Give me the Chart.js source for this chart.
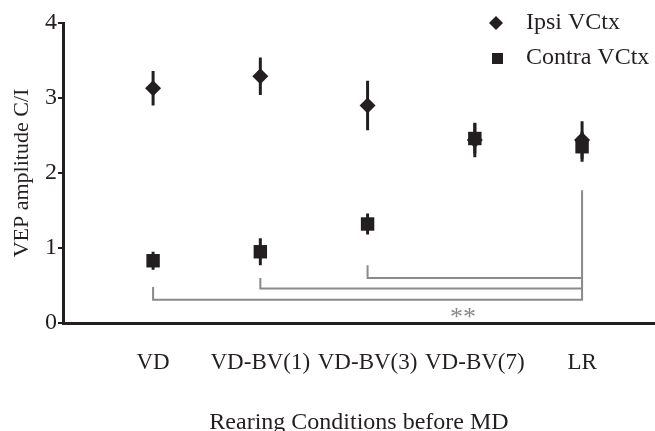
<!DOCTYPE html>
<html>
<head>
<meta charset="utf-8">
<script src="https://cdn.jsdelivr.net/npm/chart.js@4.4.1/dist/chart.umd.min.js"></script>
<style>
  html, body { margin: 0; padding: 0; background: #fff; }
  #wrap { width: 655px; height: 431px; }
</style>
</head>
<body>
<div id="wrap"><canvas id="chart"></canvas></div>
<script>
const categories = ["VD", "VD-BV(1)", "VD-BV(3)", "VD-BV(7)", "LR"];
const ipsi_values = [3.13, 3.29, 2.90, 2.44, 2.44];
const ipsi_errors = [0.23, 0.25, 0.33, 0.23, 0.25];
const contra_values = [0.83, 0.95, 1.32, 2.46, 2.35];
const contra_errors = [0.12, 0.18, 0.14, 0.20, 0.20];
const y_ticks = [0, 1, 2, 3, 4];
// brackets: [from category, to category, top of left leg, level]
const brackets = [
  [1, 5, 0.48, 0.31],
  [2, 5, 0.60, 0.46],
  [3, 5, 0.77, 0.60]
];
const lr_leg_top = 1.77;
const stars_label = "**";
const stars_pos = [3.89, 0.15];

const ink = "#231f20";
const grey = "#8a8a8a";
Chart.defaults.font.family = '"Liberation Serif", "Times New Roman", serif';
Chart.defaults.color = ink;

function points(values) {
  return values.map((v, i) => ({x: i + 1, y: v}));
}

function bracket_points(b, idx) {
  let pts = [{x: b[0], y: b[2]}, {x: b[0], y: b[3]}, {x: b[1], y: b[3]}];
  if (idx === 0) pts.push({x: b[1], y: lr_leg_top});
  return pts;
}

const bracket_sets = brackets.map((b, i) => ({
  label: "bracket" + i,
  data: bracket_points(b, i),
  showLine: true,
  borderColor: grey,
  borderWidth: 2,
  pointRadius: 0,
  fill: false,
  order: 5
}));

// vertical SEM bars, drawn through the scales
const error_bars = {
  id: "error_bars",
  afterDatasetsDraw(chart) {
    const ctx = chart.ctx;
    const xs = chart.scales.x, ys = chart.scales.y;
    ctx.save();
    ctx.strokeStyle = ink;
    ctx.lineWidth = 3;
    [[ipsi_values, ipsi_errors], [contra_values, contra_errors]].forEach(([vals, errs]) => {
      vals.forEach((v, i) => {
        const px = xs.getPixelForValue(i + 1);
        ctx.beginPath();
        ctx.moveTo(px, ys.getPixelForValue(v - errs[i]));
        ctx.lineTo(px, ys.getPixelForValue(v + errs[i]));
        ctx.stroke();
      });
    });
    // significance stars
    ctx.fillStyle = grey;
    ctx.font = '26px "Liberation Serif", serif';
    ctx.textAlign = "center";
    ctx.textBaseline = "alphabetic";
    ctx.fillText(stars_label, xs.getPixelForValue(stars_pos[0]), ys.getPixelForValue(stars_pos[1]) + 13);
    ctx.restore();
  }
};

const side_legend = {
  id: "side_legend",
  afterDraw(chart) {
    const ctx = chart.ctx;
    ctx.save();
    ctx.fillStyle = ink;
    // diamond
    ctx.beginPath();
    ctx.moveTo(496, 16); ctx.lineTo(503, 23); ctx.lineTo(496, 30); ctx.lineTo(489, 23);
    ctx.closePath();
    ctx.fill();
    // square
    ctx.fillRect(492, 53, 11, 11);
    ctx.font = '24px "Liberation Serif", serif';
    ctx.textAlign = "left";
    ctx.textBaseline = "middle";
    ctx.fillText(chart.data.datasets[0].label, 526, 23);
    ctx.fillText(chart.data.datasets[1].label, 526, 58);
    ctx.restore();
  }
};

new Chart(document.getElementById("chart"), {
  type: "scatter",
  data: {
    datasets: [
      {
        label: "Ipsi VCtx",
        data: points(ipsi_values),
        pointStyle: "rectRot",
        pointRadius: 8,
        backgroundColor: ink,
        borderColor: ink,
        borderWidth: 0,
        order: 1
      },
      {
        label: "Contra VCtx",
        data: points(contra_values),
        pointStyle: "rect",
        pointRadius: 9.5,
        backgroundColor: ink,
        borderColor: ink,
        borderWidth: 0,
        order: 2
      },
      ...bracket_sets
    ]
  },
  options: {
    responsive: true,
    maintainAspectRatio: false,
    animation: false,
    layout: { autoPadding: false, padding: { top: 23, right: 0, left: 0, bottom: 0 } },
    plugins: {
      legend: { display: false },
      tooltip: { enabled: false }
    },
    scales: {
      x: {
        type: "linear",
        min: 0.16,
        max: 5.68,
        grid: { display: false, drawTicks: false },
        border: { display: true, color: ink, width: 3 },
        afterBuildTicks: (scale) => { scale.ticks = categories.map((c, i) => ({value: i + 1})); },
        afterFit: (scale) => { scale.height = 108; },
        ticks: {
          padding: 0,
          font: { size: 23, lineHeight: 3.45 },
          color: ink,
          callback: (v) => categories[v - 1]
        },
        title: {
          display: true,
          text: "Rearing Conditions before MD",
          font: { size: 24 },
          color: ink,
          padding: { top: 20, bottom: -6 }
        }
      },
      y: {
        min: 0,
        max: 4,
        grid: { drawOnChartArea: false, drawTicks: true, tickLength: 5, color: ink, lineWidth: 2 },
        border: { display: true, color: ink, width: 3 },
        afterBuildTicks: (scale) => { scale.ticks = y_ticks.map(v => ({value: v})); },
        afterFit: (scale) => { scale.width = 63; },
        ticks: {
          padding: 1,
          font: { size: 24 },
          color: ink
        },
        title: {
          display: true,
          text: "VEP amplitude C/I",
          font: { size: 22 },
          color: ink,
          padding: { top: 9, bottom: 0 }
        }
      }
    }
  },
  plugins: [error_bars, side_legend]
});
</script>
</body>
</html>
